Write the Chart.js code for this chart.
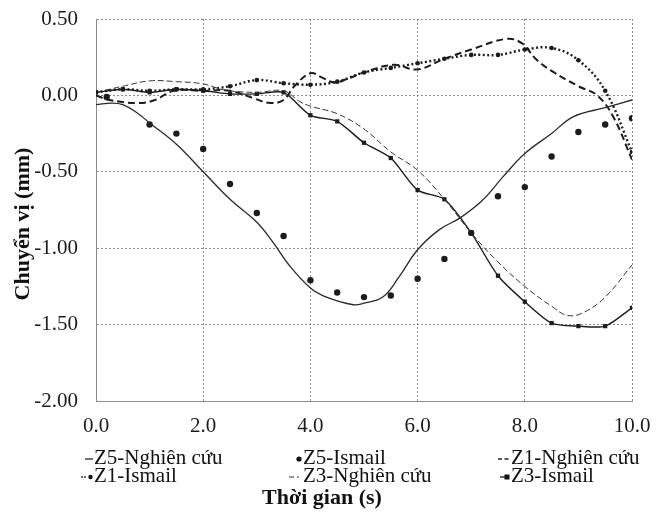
<!DOCTYPE html>
<html>
<head>
<meta charset="utf-8">
<script src="https://cdn.jsdelivr.net/npm/chart.js@4.4.1/dist/chart.umd.min.js"></script>
<style>
html,body{margin:0;padding:0;background:#fff;}
#wrap{position:relative;width:668px;height:513px;font-family:"Liberation Serif","Times New Roman",serif;color:#111;overflow:hidden;}
#c{position:absolute;left:0;top:0;}
.lg{position:absolute;font-size:21px;line-height:21px;white-space:nowrap;}
.sym{position:absolute;}
#ytitle{position:absolute;left:-78px;top:212px;width:200px;height:24px;line-height:24px;text-align:center;font-weight:bold;font-size:22px;transform:rotate(-90deg);white-space:nowrap;}
#xtitle{position:absolute;left:222px;width:200px;text-align:center;font-weight:bold;font-size:22px;line-height:22px;top:486px;white-space:nowrap;}
</style>
</head>
<body>
<div id="wrap">
<canvas id="c" width="668" height="513"></canvas>
<div id="ytitle">Chuyển vị (mm)</div>
<div id="legend"></div>
<div id="xtitle">Thời gian (s)</div>
</div>
<script>
// ---- data ----
const seriesNames = ['Z5-Nghiên cứu','Z5-Ismail','Z1-Nghiên cứu','Z1-Ismail','Z3-Nghiên cứu','Z3-Ismail'];

const z5NcT = [0,0.3,0.5,0.75,1.0,1.5,2.0,2.5,3.0,3.3,3.6,4.0,4.3,4.8,5.0,5.35,5.65,6.0,6.4,6.8,7.2,7.6,8.0,8.5,8.9,9.5,10];
const z5NcV = [-0.06,-0.05,-0.06,-0.11,-0.18,-0.32,-0.50,-0.68,-0.83,-0.96,-1.11,-1.26,-1.32,-1.37,-1.36,-1.32,-1.19,-1.01,-0.88,-0.80,-0.69,-0.53,-0.38,-0.25,-0.14,-0.08,-0.03];

const z5IsT = [0.2,1,1.5,2,2.5,3,3.5,4,4.5,5,5.5,6,6.5,7,7.5,8,8.5,9,9.5,10];
const z5IsV = [-0.01,-0.19,-0.25,-0.35,-0.58,-0.77,-0.92,-1.21,-1.29,-1.32,-1.31,-1.20,-1.07,-0.90,-0.66,-0.60,-0.40,-0.24,-0.19,-0.15];

const z1NcT = [0,0.25,0.8,1.1,1.45,2.0,2.5,2.95,3.25,3.5,3.7,4.0,4.2,4.45,4.7,5.0,5.55,6.0,6.5,7.0,7.66,7.95,8.2,8.5,9.0,9.35,9.65,10];
const z1NcV = [0.0,-0.03,-0.05,-0.03,0.03,0.03,0.03,-0.02,-0.05,-0.03,0.06,0.145,0.12,0.085,0.11,0.15,0.20,0.17,0.24,0.30,0.37,0.34,0.24,0.16,0.06,0.0,-0.14,-0.42];

const z1IsT = [0,0.5,1,1.5,2,2.5,3,3.5,4,4.5,5,5.5,6,6.5,7,7.5,8,8.5,9,9.5,10];
const z1IsV = [0.02,0.04,0.03,0.04,0.04,0.06,0.10,0.08,0.07,0.09,0.15,0.18,0.21,0.24,0.265,0.265,0.30,0.31,0.23,0.03,-0.37];

const z3NcT = [0,0.5,1.0,1.5,2.0,2.4,3.0,3.5,3.8,4.0,4.5,5.0,5.5,6.0,6.5,7.0,7.5,8.0,8.5,8.8,9.1,9.5,10];
const z3NcV = [0.02,0.06,0.095,0.09,0.075,0.035,0.02,0.03,-0.04,-0.07,-0.12,-0.22,-0.37,-0.49,-0.68,-0.90,-1.09,-1.25,-1.38,-1.44,-1.42,-1.32,-1.11];

const z3IsT = [0,0.5,1,1.5,2,2.5,3,3.5,4,4.5,5,5.5,6,6.5,7,7.5,8,8.5,9,9.5,10];
const z3IsV = [0.02,0.04,0.02,0.04,0.03,0.01,0.01,0.02,-0.13,-0.17,-0.31,-0.41,-0.62,-0.68,-0.90,-1.18,-1.35,-1.49,-1.51,-1.51,-1.39];

const xTickValues = [0,2,4,6,8,10];
const xTickLabels = ['0.0','2.0','4.0','6.0','8.0','10.0'];
const yTickValues = [0.5,0,-0.5,-1,-1.5,-2];
const yTickLabels = ['0.50','0.00','-0.50','-1.00','-1.50','-2.00'];

// ---- build ----
const pts = (t,v) => t.map((x,i)=>({x:x,y:v[i]}));
const FONT = '"Liberation Serif","Times New Roman",serif';
const INK = '#1c1c1c';

const datasets = [
  {label:seriesNames[0], data:pts(z5NcT,z5NcV), borderColor:'#2a2a2a', borderWidth:1.3, pointRadius:0, tension:0.4, fill:false},
  {label:seriesNames[1], data:pts(z5IsT,z5IsV), showLine:false, pointRadius:3.2, pointStyle:'circle', backgroundColor:INK, borderColor:INK, borderWidth:0},
  {label:seriesNames[2], data:pts(z1NcT,z1NcV), borderColor:INK, borderWidth:2, borderDash:[7,4], pointRadius:0, tension:0.4, fill:false},
  {label:seriesNames[3], data:pts(z1IsT,z1IsV), borderColor:INK, borderWidth:2.4, borderDash:[2,2.5], pointRadius:2.3, pointStyle:'circle', backgroundColor:INK, pointBorderWidth:0, tension:0.4, fill:false},
  {label:seriesNames[4], data:pts(z3NcT,z3NcV), borderColor:'#333', borderWidth:1, borderDash:[6,3], pointRadius:0, tension:0.4, fill:false},
  {label:seriesNames[5], data:pts(z3IsT,z3IsV), borderColor:INK, borderWidth:1.4, pointRadius:3, pointStyle:'rect', backgroundColor:INK, pointBorderWidth:0, tension:0.25, fill:false}
];

const gridColor = '#8c8c8c';
new Chart(document.getElementById('c'), {
  type:'line',
  data:{datasets:datasets},
  options:{
    responsive:false, animation:false, devicePixelRatio:1,
    layout:{padding:{left:0,right:36,top:19,bottom:72}},
    plugins:{legend:{display:false}, tooltip:{enabled:false}, title:{display:false}},
    scales:{
      x:{type:'linear', min:0, max:10,
         afterBuildTicks:s=>{s.ticks = xTickValues.map(v=>({value:v}));},
         afterFit:s=>{s.height = 40; s.paddingLeft = 0; s.paddingRight = 0;},
         ticks:{callback:v=>xTickLabels[xTickValues.indexOf(v)], font:{family:FONT,size:21}, color:INK, padding:13, maxRotation:0, autoSkip:false},
         grid:{color:gridColor, lineWidth:1, drawTicks:false},
         border:{color:gridColor, width:1, dash:[2,2]}
      },
      y:{type:'linear', min:-2, max:0.5,
         afterBuildTicks:s=>{s.ticks = yTickValues.map(v=>({value:v}));},
         afterFit:s=>{s.width = 96; s.paddingTop = 0; s.paddingBottom = 0;},
         ticks:{callback:v=>yTickLabels[yTickValues.indexOf(v)], font:{family:FONT,size:21}, color:INK, padding:18, autoSkip:false},
         grid:{color:gridColor, lineWidth:1, drawTicks:false},
         border:{color:gridColor, width:1, dash:[2,2]}
      }
    }
  }
});

// ---- legend (HTML) ----
const colX = [94,303,511];
const rowTop = [447,465];
const symbols = [
  '<line x1="5" y1="6" x2="13" y2="6" stroke="#222" stroke-width="1.3"/>',
  '<circle cx="10" cy="6" r="2.6" fill="#111"/>',
  '<line x1="1" y1="6" x2="5" y2="6" stroke="#222" stroke-width="1.5"/><line x1="7.5" y1="6" x2="11.5" y2="6" stroke="#222" stroke-width="1.5"/>',
  '<circle cx="2" cy="6" r="0.9" fill="#222"/><circle cx="5" cy="6" r="0.9" fill="#222"/><circle cx="10.5" cy="6" r="2.2" fill="#111"/>',
  '<line x1="0" y1="6" x2="5" y2="6" stroke="#333" stroke-width="1"/><line x1="8" y1="6" x2="10" y2="6" stroke="#333" stroke-width="1"/>',
  '<line x1="3" y1="6" x2="12" y2="6" stroke="#222" stroke-width="1.4"/><rect x="7.5" y="3.5" width="5" height="5" fill="#111"/>'
];
const lg = document.getElementById('legend');
seriesNames.forEach((name,i)=>{
  const r = Math.floor(i/3), c = i%3;
  const d = document.createElement('div');
  d.className='lg'; d.style.left=colX[c]+'px'; d.style.top=rowTop[r]+'px';
  d.textContent = name;
  lg.appendChild(d);
  const s = document.createElementNS('http://www.w3.org/2000/svg','svg');
  s.setAttribute('class','sym'); s.setAttribute('width','14'); s.setAttribute('height','12');
  s.style.left=(colX[c]-14)+'px'; s.style.top=(rowTop[r]+6)+'px';
  s.innerHTML = symbols[i];
  lg.appendChild(s);
});
</script>
</body>
</html>
